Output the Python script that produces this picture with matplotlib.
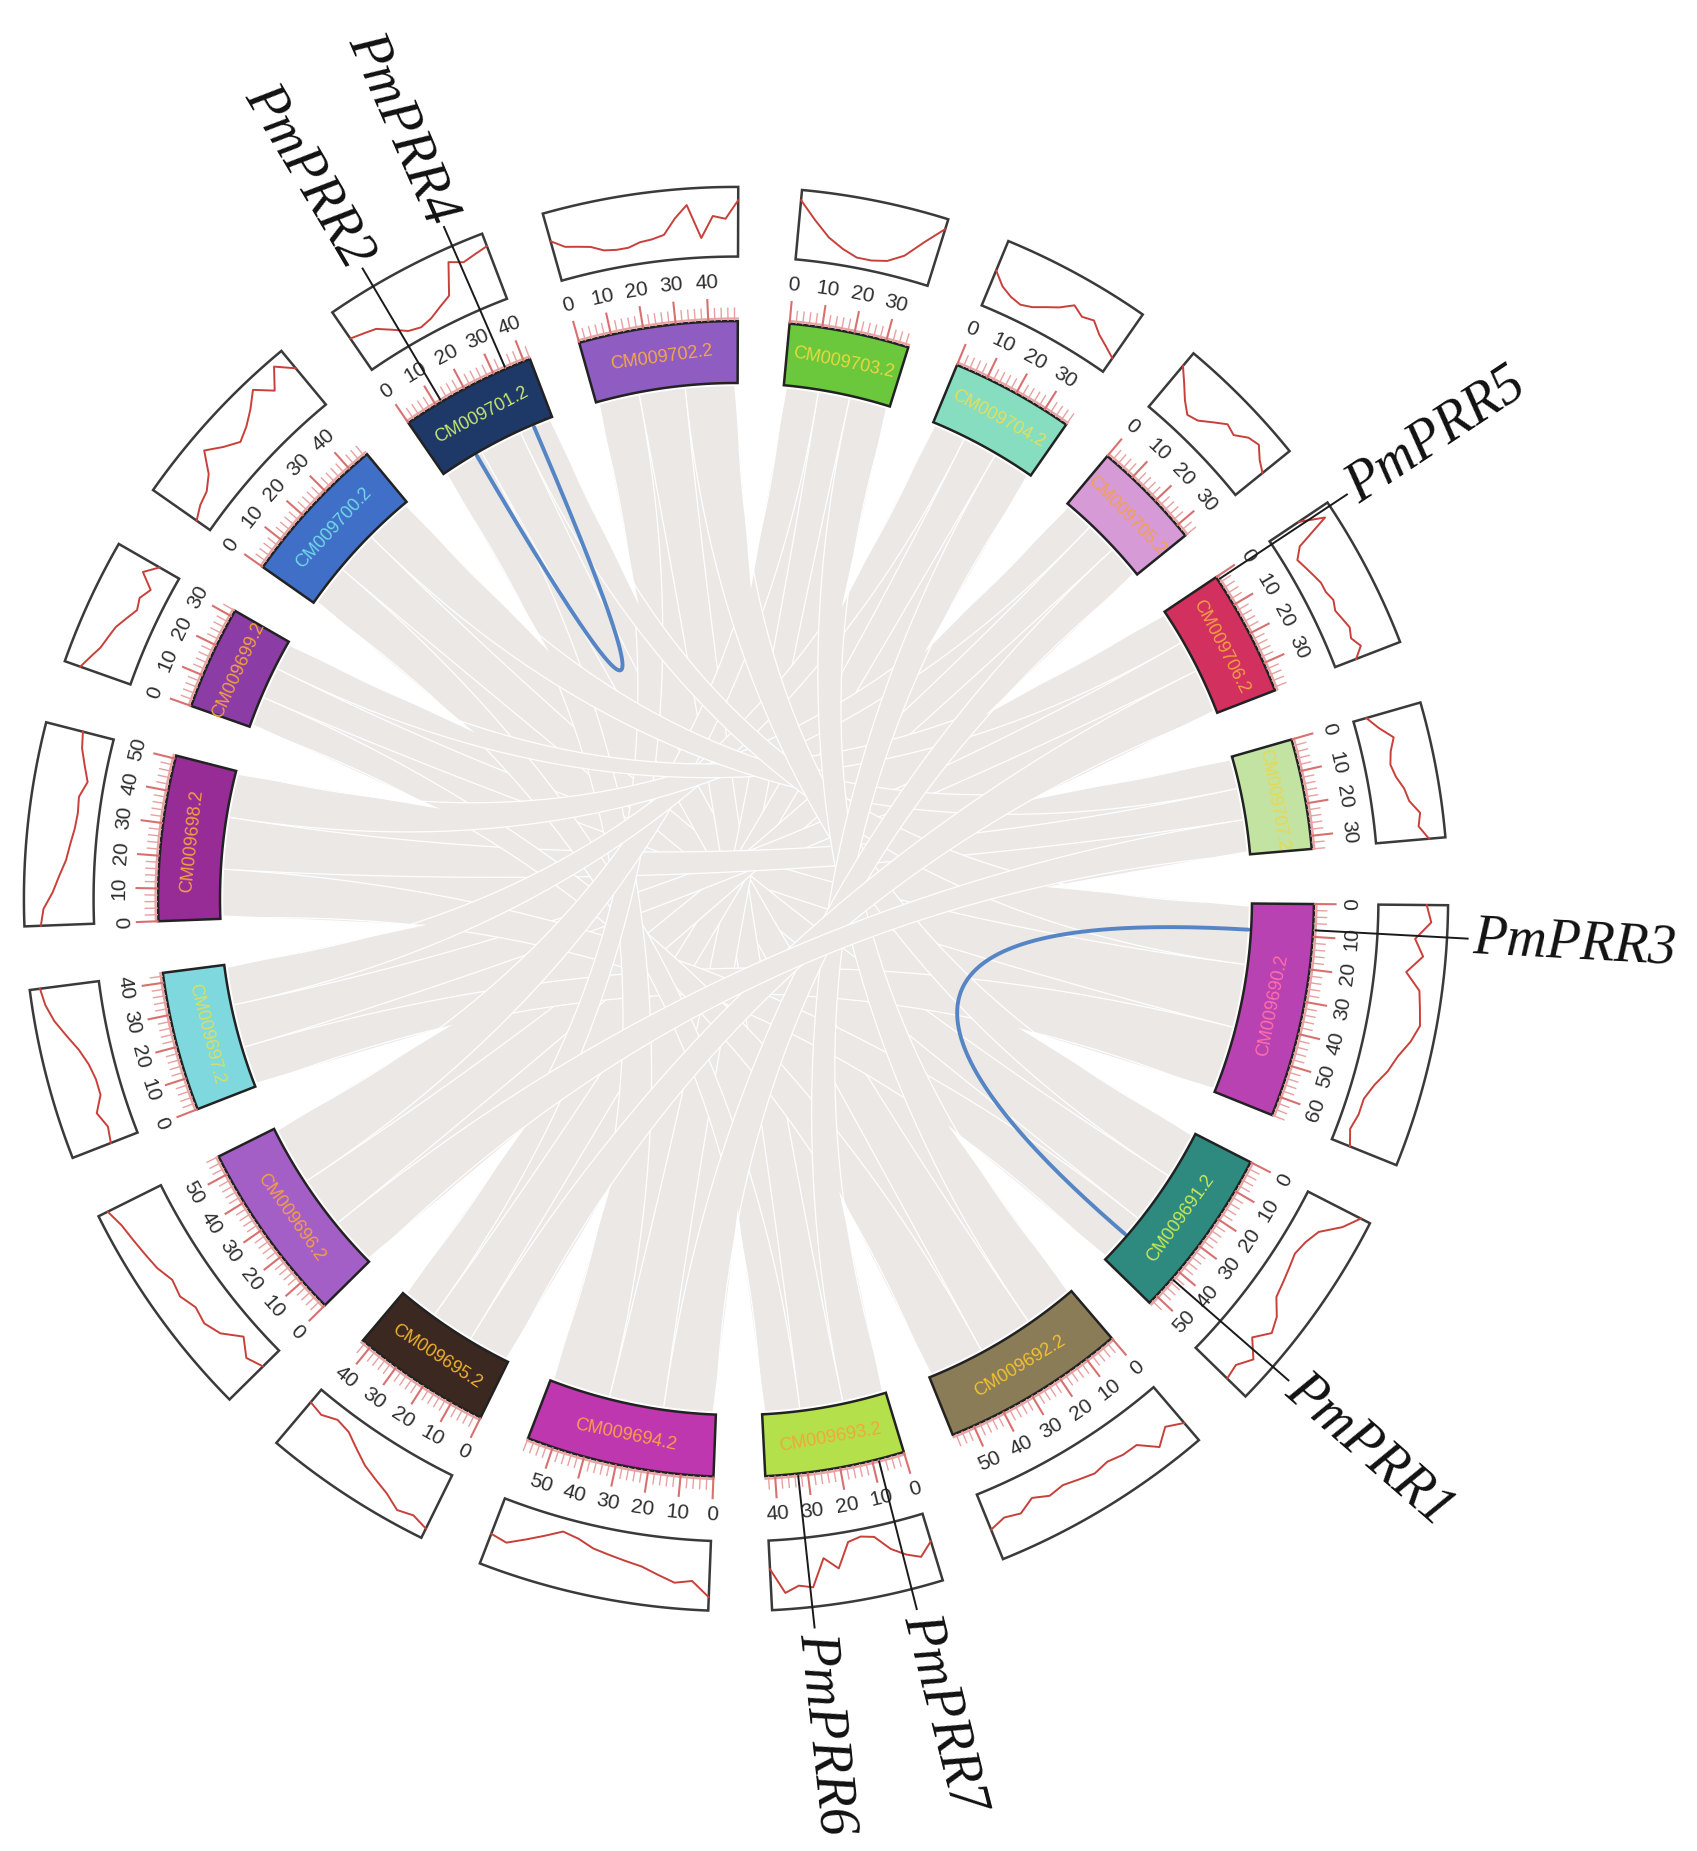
import numpy as np
import matplotlib
matplotlib.use("Agg")
import matplotlib.pyplot as plt
from matplotlib.patches import Polygon, Circle

# chromosomes, clockwise from 3 o'clock
chrom_names = ["CM009690.2", "CM009691.2", "CM009692.2", "CM009693.2", "CM009694.2",
               "CM009695.2", "CM009696.2", "CM009697.2", "CM009698.2", "CM009699.2",
               "CM009700.2", "CM009701.2", "CM009702.2", "CM009703.2", "CM009704.2",
               "CM009705.2", "CM009706.2", "CM009707.2"]
chrom_len = [66, 53, 57, 43, 58, 43, 56, 43, 51, 32, 47, 42, 49, 37, 38, 34, 39, 34]
chrom_colors = ['#B942B2', '#2E8A7F', '#8A7C56', '#B4E04C', '#BE37AE', '#3B2820',
                '#A45FC7', '#7ED8DD', '#982C97', '#8B3DA5', '#3F6FC6', '#1E3868',
                '#8F5CC2', '#6BC73B', '#86DDBF', '#D69AD6', '#D23160', '#C2E3A2']
name_colors = ['#FF6FA8', '#C9E85A', '#F2C230', '#F0A83A', '#F7A04A', '#F0B030',
               '#F4A040', '#D8E060', '#F4A040', '#F4A040', '#70D8E8', '#C8E870',
               '#F2A848', '#E8D840', '#E0E060', '#F4A050', '#F4A040', '#E8D850']

# density track, from 0 Mb to chromosome end (0 = inner edge of box, 1 = outer edge)
dens_690 = [0.72, 0.8, 0.55, 0.7, 0.45, 0.7, 0.75, 0.8, 0.7, 0.55, 0.45, 0.3, 0.2, 0.2, 0.15, 0.25]
dens_691 = [0.9, 0.7, 0.4, 0.3, 0.25, 0.3, 0.35, 0.4, 0.6, 0.7, 0.5, 0.75, 0.6, 0.65]
dens_692 = [0.7, 0.55, 0.75, 0.5, 0.5, 0.45, 0.5, 0.45, 0.4, 0.45, 0.35, 0.5, 0.45, 0.55]
dens_693 = [0.4, 0.6, 0.5, 0.35, 0.1, 0.05, 0.1, 0.5, 0.3, 0.75, 0.7, 0.8, 0.4]
dens_694 = [0.85, 0.6, 0.65, 0.55, 0.45, 0.4, 0.35, 0.3, 0.2, 0.15, 0.3, 0.45, 0.6, 0.55]
dens_695 = [0.9, 0.8, 0.85, 0.7, 0.6, 0.5, 0.35, 0.2, 0.15, 0.25, 0.2]
dens_696 = [0.3, 0.4, 0.2, 0.45, 0.55, 0.5, 0.6, 0.55, 0.65, 0.7, 0.75, 0.8, 0.9]
dens_697 = [0.4, 0.35, 0.45, 0.3, 0.3, 0.35, 0.45, 0.6, 0.75, 0.85, 0.9]
dens_698 = [0.8, 0.75, 0.6, 0.5, 0.4, 0.35, 0.3, 0.28, 0.3, 0.2, 0.3, 0.4, 0.45]
dens_699 = [0.8, 0.7, 0.6, 0.55, 0.5, 0.4, 0.3, 0.35, 0.25, 0.5, 0.3]
dens_700 = [0.2, 0.3, 0.35, 0.5, 0.8, 0.6, 0.45, 0.55, 0.7, 0.9, 0.65, 0.95, 0.7]
dens_701 = [0.55, 0.5, 0.45, 0.3, 0.15, 0.1, 0.15, 0.25, 0.35, 0.85, 0.75, 0.8, 0.85]
dens_702 = [0.6, 0.45, 0.4, 0.35, 0.25, 0.22, 0.22, 0.28, 0.3, 0.35, 0.6, 0.8, 0.25, 0.6, 0.55, 0.85]
dens_703 = [0.9, 0.6, 0.35, 0.2, 0.1, 0.1, 0.15, 0.3, 0.6, 0.9]
dens_704 = [0.55, 0.35, 0.25, 0.2, 0.25, 0.35, 0.45, 0.6, 0.5, 0.55, 0.4, 0.3, 0.2]
dens_705 = [0.8, 0.6, 0.4, 0.25, 0.3, 0.45, 0.6, 0.55, 0.7, 0.75, 0.6, 0.5]
dens_706 = [0.5, 0.9, 0.3, 0.15, 0.2, 0.25, 0.3, 0.3, 0.35, 0.3, 0.35, 0.4, 0.35, 0.45, 0.3]
dens_707 = [0.15, 0.3, 0.5, 0.4, 0.35, 0.4, 0.5, 0.55, 0.7, 0.65, 0.8]
density = [dens_690, dens_691, dens_692, dens_693, dens_694, dens_695, dens_696, dens_697,
           dens_698, dens_699, dens_700, dens_701, dens_702, dens_703, dens_704, dens_705,
           dens_706, dens_707]

# collinear blocks (chrA, startA, endA, chrB, startB, endB), Mb
syn_links = [
    (0, 21, 43, 9, 11, 22), (1, 17, 35, 10, 15, 30), (2, 18, 37, 11, 15, 30),
    (3, 15, 30, 12, 15, 31), (4, 18, 37, 13, 12, 23), (5, 15, 30, 14, 12, 24),
    (6, 17, 35, 15, 11, 22), (7, 14, 29, 16, 12, 23), (8, 17, 35, 17, 11, 22),
    (0, 43, 66, 7, 0, 14), (1, 35, 53, 8, 0, 17), (2, 37, 57, 9, 0, 11),
    (3, 30, 43, 10, 0, 15), (4, 37, 58, 11, 0, 15), (5, 30, 43, 12, 0, 15),
    (6, 35, 56, 13, 0, 12), (7, 29, 43, 14, 0, 12), (8, 35, 51, 15, 0, 11),
    (9, 22, 32, 16, 0, 12), (10, 30, 47, 17, 0, 11), (11, 30, 42, 0, 0, 21),
    (12, 31, 49, 1, 0, 17), (13, 23, 37, 2, 0, 18), (14, 24, 38, 3, 0, 15),
    (15, 22, 34, 4, 0, 18), (16, 23, 39, 5, 0, 15), (17, 22, 34, 6, 0, 17),
]

# PRR segmental duplications (chrA, posA, chrB, posB)
prr_links = [(11, 13, 11, 35), (0, 9, 1, 42)]

# PRR genes (name, chromosome index, Mb)
gene_names = ["PmPRR1", "PmPRR2", "PmPRR3", "PmPRR4", "PmPRR5", "PmPRR6", "PmPRR7"]
gene_chrom = [1, 11, 0, 11, 16, 3, 3]
gene_pos = [43, 12, 8, 34, 1, 33, 8]

# ---- layout ----
W, H = 1697, 1851
CX, CY = 736, 899          # centre in pixels (from top)
RPX = 516                  # pixels per unit radius
DEG_PER_MB = 0.325
GAP = 5.14
START = -0.5

starts = []
a = START
for L in chrom_len:
    starts.append(a)
    a -= L * DEG_PER_MB + GAP


def ang(i, pos):
    return starts[i] - np.asarray(pos) * DEG_PER_MB


def xy(th, r):
    t = np.radians(th)
    return r * np.cos(t), r * np.sin(t)


def tang_rot(th):
    a = th - 90
    while a > 90:
        a -= 180
    while a <= -90:
        a += 180
    return a


def sector(th1, th2, r1, r2, n=60):
    t = np.radians(np.linspace(th1, th2, n))
    outer = np.column_stack([r2 * np.cos(t), r2 * np.sin(t)])
    inner = np.column_stack([r1 * np.cos(t[::-1]), r1 * np.sin(t[::-1])])
    return np.vstack([outer, inner])


def bezier(p0, p2, n=50):
    t = np.linspace(0, 1, n)[:, None]
    p0 = np.asarray(p0)
    p2 = np.asarray(p2)
    return (1 - t) ** 2 * p0 + t ** 2 * p2


fig = plt.figure(figsize=(W / 100, H / 100), dpi=100)
ax = fig.add_axes([0, 0, 1, 1])
ax.set_xlim(-CX / RPX, (W - CX) / RPX)
ax.set_ylim(-(H - CY) / RPX, CY / RPX)
ax.set_aspect('equal')
ax.axis('off')

GREY = '#ECE8E6'
R_LINK = 0.995
R_IN, R_OUT = 1.0, 1.12
R_BOX1, R_BOX2 = 1.245, 1.38

# dense collinearity background
ax.add_patch(Circle((0, 0), R_LINK, facecolor=GREY, edgecolor='none', zorder=0))

# grey ribbons
for (ca, sa, ea, cb, sb, eb) in syn_links:
    ta = np.radians(np.linspace(ang(ca, sa), ang(ca, ea), 40))
    tb = np.radians(np.linspace(ang(cb, sb), ang(cb, eb), 40))
    arc_a = np.column_stack([R_LINK * np.cos(ta), R_LINK * np.sin(ta)])
    arc_b = np.column_stack([R_LINK * np.cos(tb), R_LINK * np.sin(tb)])
    pts = np.vstack([arc_a, bezier(arc_a[-1], arc_b[0]), arc_b, bezier(arc_b[-1], arc_a[0])])
    ax.add_patch(Polygon(pts, closed=True, facecolor=GREY, edgecolor='white',
                         linewidth=0.9, zorder=1))

# white gaps between chromosomes, reaching toward the centre
for i in range(len(chrom_len)):
    e = float(ang(i, chrom_len[i]))
    s = starts[(i + 1) % len(chrom_len)]
    if s > e:
        s -= 360
    t = np.radians(np.linspace(e + 0.4, s - 0.4, 20))
    rim = np.column_stack([1.001 * np.cos(t), 1.001 * np.sin(t)])
    tip = np.array([xy((e + s) / 2, 0.6)])
    ax.add_patch(Polygon(np.vstack([rim, tip]), closed=True, facecolor='white',
                         edgecolor='none', zorder=2))

# blue PRR links
for (ca, pa, cb, pb) in prr_links:
    c = bezier(xy(ang(ca, pa), R_LINK), xy(ang(cb, pb), R_LINK), 150)
    ax.plot(c[:, 0], c[:, 1], color='#5585C4', lw=2.8, zorder=3, solid_capstyle='round')

# ideogram, ticks, density boxes
for i, name in enumerate(chrom_names):
    L = chrom_len[i]
    th1, th2 = float(ang(i, 0)), float(ang(i, L))
    ax.add_patch(Polygon(sector(th1, th2, R_IN, R_OUT), closed=True,
                         facecolor=chrom_colors[i], edgecolor='#222222', lw=1.8, zorder=4))
    mid = (th1 + th2) / 2
    tx, ty = xy(mid, (R_IN + R_OUT) / 2)
    ax.text(tx, ty, name, color=name_colors[i], fontsize=13, ha='center', va='center',
            rotation=tang_rot(mid), rotation_mode='anchor', family='Liberation Sans',
            zorder=5)

    # tick baseline and ticks
    t = np.radians(np.linspace(th1, th2, 60))
    ax.plot(1.125 * np.cos(t), 1.125 * np.sin(t), color='#E8A4A4', lw=1.6, zorder=4)
    for p in range(0, L + 1, 2):
        th = float(ang(i, p))
        major = p % 10 == 0
        r2 = 1.162 if major else 1.145
        x1, y1 = xy(th, 1.122)
        x2, y2 = xy(th, r2)
        ax.plot([x1, x2], [y1, y2], color='#D87070' if major else '#E8A0A0',
                lw=1.5 if major else 1.0, zorder=4)
        if major:
            lx, ly = xy(th, 1.195)
            ax.text(lx, ly, str(p), fontsize=15, color='#2E2E2E', ha='center', va='center',
                    rotation=tang_rot(th), rotation_mode='anchor',
                    family='Liberation Sans', zorder=5)

    # density box
    ax.add_patch(Polygon(sector(th1, th2, R_BOX1, R_BOX2), closed=True,
                         facecolor='white', edgecolor='#3A3A3A', lw=1.8, zorder=4))
    vals = np.asarray(density[i])
    pos = np.linspace(0, L, len(vals))
    thv = np.radians(ang(i, pos))
    rv = R_BOX1 + 0.008 + vals * (R_BOX2 - R_BOX1 - 0.016)
    ax.plot(rv * np.cos(thv), rv * np.sin(thv), color='#C8403A', lw=1.4, zorder=5)

# gene labels
for name, ci, p in zip(gene_names, gene_chrom, gene_pos):
    th = float(ang(ci, p))
    x1, y1 = xy(th, 1.125)
    x2, y2 = xy(th, 1.42)
    ax.plot([x1, x2], [y1, y2], color='#1A1A1A', lw=1.4, zorder=6)
    lx, ly = xy(th, 1.43)
    if -90 <= th <= 90 or th < -270:
        rot, ha = (th + 360 if th < -270 else th), 'left'
    else:
        rot, ha = (th - 180 if th > 0 else th + 180), 'right'
    ax.text(lx, ly, name, fontsize=40, style='italic', family='Liberation Serif',
            ha=ha, va='center', rotation=rot, rotation_mode='anchor', color='#111111',
            zorder=7)

fig.savefig('out.png', dpi=100)
